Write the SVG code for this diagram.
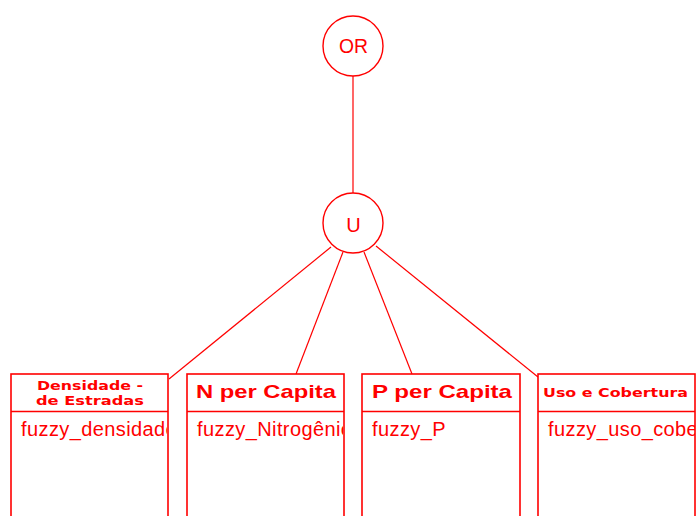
<svg xmlns="http://www.w3.org/2000/svg" width="697" height="516" viewBox="0 0 697 516">
  <style>
    .ln { stroke: #ff0000; stroke-width: 1.2; fill: none; }
    .node { stroke: #ff0000; stroke-width: 1.4; fill: #ffffff; }
    .box { stroke: #ff0000; stroke-width: 1.6; fill: #ffffff; }
    .op { font-family: "Liberation Sans", Arial, sans-serif; font-size: 20px; fill: #ff0000; text-anchor: middle; }
    .big { font-family: "Liberation Sans", Arial, sans-serif; font-size: 19px; font-weight: bold; fill: #ff0000; }
    .small { font-family: "DejaVu Sans", "Liberation Sans", sans-serif; font-size: 11.5px; font-weight: bold; fill: #ff0000; }
    .body { font-family: "Liberation Sans", Arial, sans-serif; font-size: 20px; letter-spacing: 0.4px; fill: #ff0000; }
  </style>
  <defs>
    <!-- body areas clip the long layer names at the box border -->
    <clipPath id="c1"><rect x="11" y="412" width="156" height="104"/></clipPath>
    <clipPath id="c2"><rect x="188" y="412" width="155" height="104"/></clipPath>
    <clipPath id="c3"><rect x="363" y="412" width="156" height="104"/></clipPath>
    <clipPath id="c4"><rect x="539" y="412" width="156" height="104"/></clipPath>
  </defs>

  <!-- connectors -->
  <g id="connectors">
    <line class="ln" x1="353" y1="76" x2="353" y2="193"/>
    <line class="ln" x1="331" y1="247" x2="169" y2="379"/>
    <line class="ln" x1="343" y1="252" x2="296" y2="374"/>
    <line class="ln" x1="364" y1="252" x2="412" y2="374"/>
    <line class="ln" x1="376" y1="246" x2="538" y2="377"/>
  </g>

  <!-- operator nodes -->
  <g id="or-node">
    <circle class="node" cx="353" cy="46" r="30"/>
    <text class="op" x="353.5" y="53" textLength="29" lengthAdjust="spacingAndGlyphs">OR</text>
  </g>
  <g id="union-node">
    <circle class="node" cx="353" cy="223" r="30"/>
    <text class="op" x="353.5" y="232">U</text>
  </g>

  <!-- layer boxes -->
  <g id="densidade-estradas">
    <rect class="box" x="11" y="374" width="157" height="160"/>
    <line class="box" x1="11" y1="411.5" x2="168" y2="411.5"/>
    <text class="small" x="37" y="390" textLength="106" lengthAdjust="spacingAndGlyphs">Densidade -</text>
    <text class="small" x="36" y="405" textLength="108" lengthAdjust="spacingAndGlyphs">de Estradas</text>
    <text class="body" x="21" y="436" clip-path="url(#c1)">fuzzy_densidade</text>
  </g>
  <g id="n-per-capita">
    <rect class="box" x="187" y="374" width="157" height="160"/>
    <line class="box" x1="187" y1="411.5" x2="344" y2="411.5"/>
    <text class="big" x="196" y="398" textLength="140" lengthAdjust="spacingAndGlyphs">N per Capita</text>
    <text class="body" x="197" y="436" clip-path="url(#c2)">fuzzy_Nitrogênio</text>
  </g>
  <g id="p-per-capita">
    <rect class="box" x="362" y="374" width="158" height="160"/>
    <line class="box" x1="362" y1="411.5" x2="520" y2="411.5"/>
    <text class="big" x="372" y="398" textLength="140" lengthAdjust="spacingAndGlyphs">P per Capita</text>
    <text class="body" x="372" y="436" clip-path="url(#c3)">fuzzy_P</text>
  </g>
  <g id="uso-cobertura">
    <rect class="box" x="538" y="374" width="157" height="160"/>
    <line class="box" x1="538" y1="411.5" x2="695" y2="411.5"/>
    <text class="small" x="543" y="397" textLength="145" lengthAdjust="spacingAndGlyphs">Uso e Cobertura</text>
    <text class="body" x="548" y="436" clip-path="url(#c4)">fuzzy_uso_cobertura</text>
  </g>
</svg>
